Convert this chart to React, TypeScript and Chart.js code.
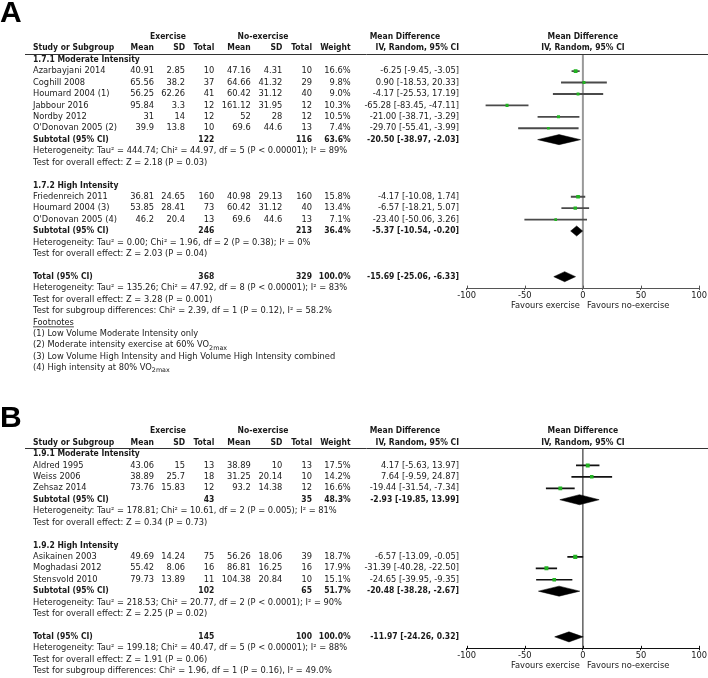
import React, { useEffect, useRef } from 'react';
import { Chart, registerables } from 'chart.js';
Chart.register(...registerables);

const FONT = '"DejaVu Sans", Verdana, sans-serif';
const LETTER_FONT = '"Liberation Sans", Arial, sans-serif';
const FS = 8.3;
const FS_BOLD = 8.5;
const TEXT = '#1a1a1a';
const GREEN = '#22b322';

// ---------------- Panel A data ----------------
const aSubgroups = ['1.7.1 Moderate Intensity', '1.7.2 High Intensity'];
const aStudies = ['Azarbayjani 2014', 'Coghill 2008', 'Houmard 2004 (1)', 'Jabbour 2016', 'Nordby 2012', "O'Donovan 2005 (2)", 'Friedenreich 2011', 'Houmard 2004 (3)', "O'Donovan 2005 (4)"];
const aGroup = [0, 0, 0, 0, 0, 0, 1, 1, 1];
const aExMean = [40.91, 65.56, 56.25, 95.84, 31, 39.9, 36.81, 53.85, 46.2];
const aExSD = [2.85, 38.2, 62.26, 3.3, 14, 13.8, 24.65, 28.41, 20.4];
const aExN = [10, 37, 41, 12, 12, 10, 160, 73, 13];
const aNoMean = [47.16, 64.66, 60.42, 161.12, 52, 69.6, 40.98, 60.42, 69.6];
const aNoSD = [4.31, 41.32, 31.12, 31.95, 28, 44.6, 29.13, 31.12, 44.6];
const aNoN = [10, 29, 40, 12, 12, 13, 160, 40, 13];
const aWeight = [16.6, 9.8, 9.0, 10.3, 10.5, 7.4, 15.8, 13.4, 7.1];
const aMD = [-6.25, 0.9, -4.17, -65.28, -21.0, -29.7, -4.17, -6.57, -23.4];
const aLo = [-9.45, -18.53, -25.53, -83.45, -38.71, -55.41, -10.08, -18.21, -50.06];
const aHi = [-3.05, 20.33, 17.19, -47.11, -3.29, -3.99, 1.74, 5.07, 3.26];
const aSubExN = [122, 246];
const aSubNoN = [116, 213];
const aSubWeight = [63.6, 36.4];
const aSubMD = [-20.5, -5.37];
const aSubLo = [-38.97, -10.54];
const aSubHi = [-2.03, -0.2];
const aSubHet = [
  'Heterogeneity: Tau² = 444.74; Chi² = 44.97, df = 5 (P < 0.00001); I² = 89%',
  'Heterogeneity: Tau² = 0.00; Chi² = 1.96, df = 2 (P = 0.38); I² = 0%',
];
const aSubTest = ['Test for overall effect: Z = 2.18 (P = 0.03)', 'Test for overall effect: Z = 2.03 (P = 0.04)'];
const aTotN = [368, 329];
const aTotWeight = 100.0;
const aTotEffect = [-15.69, -25.06, -6.33];
const aTotNotes = [
  'Heterogeneity: Tau² = 135.26; Chi² = 47.92, df = 8 (P < 0.00001); I² = 83%',
  'Test for overall effect: Z = 3.28 (P = 0.001)',
  'Test for subgroup differences: Chi² = 2.39, df = 1 (P = 0.12), I² = 58.2%',
];
const aFootnotes: [string, string][] = [
  ['(1) Low Volume Moderate Intensity only', ''],
  ['(2) Moderate intensity exercise at 60% VO', '2max'],
  ['(3) Low Volume High Intensity and High Volume High Intensity combined', ''],
  ['(4) High intensity at 80% VO', '2max'],
];

// ---------------- Panel B data ----------------
const bSubgroups = ['1.9.1 Moderate Intensity', '1.9.2 High Intensity'];
const bStudies = ['Aldred 1995', 'Weiss 2006', 'Zehsaz 2014', 'Asikainen 2003', 'Moghadasi 2012', 'Stensvold 2010'];
const bGroup = [0, 0, 0, 1, 1, 1];
const bExMean = [43.06, 38.89, 73.76, 49.69, 55.42, 79.73];
const bExSD = [15, 25.7, 15.83, 14.24, 8.06, 13.89];
const bExN = [13, 18, 12, 75, 16, 11];
const bNoMean = [38.89, 31.25, 93.2, 56.26, 86.81, 104.38];
const bNoSD = [10, 20.14, 14.38, 18.06, 16.25, 20.84];
const bNoN = [13, 10, 12, 39, 16, 10];
const bWeight = [17.5, 14.2, 16.6, 18.7, 17.9, 15.1];
const bMD = [4.17, 7.64, -19.44, -6.57, -31.39, -24.65];
const bLo = [-5.63, -9.59, -31.54, -13.09, -40.28, -39.95];
const bHi = [13.97, 24.87, -7.34, -0.05, -22.5, -9.35];
const bSubExN = [43, 102];
const bSubNoN = [35, 65];
const bSubWeight = [48.3, 51.7];
const bSubMD = [-2.93, -20.48];
const bSubLo = [-19.85, -38.28];
const bSubHi = [13.99, -2.67];
const bSubHet = [
  'Heterogeneity: Tau² = 178.81; Chi² = 10.61, df = 2 (P = 0.005); I² = 81%',
  'Heterogeneity: Tau² = 218.53; Chi² = 20.77, df = 2 (P < 0.0001); I² = 90%',
];
const bSubTest = ['Test for overall effect: Z = 0.34 (P = 0.73)', 'Test for overall effect: Z = 2.25 (P = 0.02)'];
const bTotN = [145, 100];
const bTotWeight = 100.0;
const bTotEffect = [-11.97, -24.26, 0.32];
const bTotNotes = [
  'Heterogeneity: Tau² = 199.18; Chi² = 40.47, df = 5 (P < 0.00001); I² = 88%',
  'Test for overall effect: Z = 1.91 (P = 0.06)',
  'Test for subgroup differences: Chi² = 1.96, df = 1 (P = 0.16), I² = 49.0%',
];
const bFootnotes: [string, string][] = [];

// axis & header texts
const xMin = -100;
const xMax = 100;
const xStep = 50;
const headerExercise = 'Exercise';
const headerControl = 'No-exercise';
const headerMD = 'Mean Difference';
const headerMethod = 'IV, Random, 95% CI';
const favourLeft = 'Favours exercise';
const favourRight = 'Favours no-exercise';

type Panel = any;

const panelA: Panel = {
  letter: 'A', subgroups: aSubgroups, studies: aStudies, group: aGroup, exMean: aExMean, exSD: aExSD, exN: aExN,
  noMean: aNoMean, noSD: aNoSD, noN: aNoN, weight: aWeight, md: aMD, lo: aLo, hi: aHi,
  subExN: aSubExN, subNoN: aSubNoN, subWeight: aSubWeight, subMD: aSubMD, subLo: aSubLo, subHi: aSubHi,
  subHet: aSubHet, subTest: aSubTest, totN: aTotN, totWeight: aTotWeight, totEffect: aTotEffect, totNotes: aTotNotes,
  footnotes: aFootnotes,
  style: { ci: '#4a4a4a', ciW: 1.2, zero: '#999999', zeroW: 2, axis: '#555555', letterY: 22, padTop: 54, padBottom: 77.9, height: 382, top: 0 },
};
const panelB: Panel = {
  letter: 'B', subgroups: bSubgroups, studies: bStudies, group: bGroup, exMean: bExMean, exSD: bExSD, exN: bExN,
  noMean: bNoMean, noSD: bNoSD, noN: bNoN, weight: bWeight, md: bMD, lo: bLo, hi: bHi,
  subExN: bSubExN, subNoN: bSubNoN, subWeight: bSubWeight, subMD: bSubMD, subLo: bSubLo, subHi: bSubHi,
  subHet: bSubHet, subTest: bSubTest, totN: bTotN, totWeight: bTotWeight, totEffect: bTotEffect, totNotes: bTotNotes,
  footnotes: bFootnotes,
  style: { ci: '#111111', ciW: 1, zero: '#111111', zeroW: 1, axis: '#111111', letterY: 45, padTop: 66.3, padBottom: 13.7, height: 296, top: 382 },
};

// column anchors (layout)
const COL = { name: 33, exMean: 154, exSD: 185, exN: 214.3, noMean: 250.7, noSD: 282.3, noN: 312, weight: 350.7, ci: 459, exHead: 168, noHead: 263, mdHead: 405, lineLeft: 25 };

function layoutRows(p: Panel) {
  const rows: any[] = [];
  const studyRow: number[] = [];
  const subRow: number[] = [];
  let r = 0;
  p.subgroups.forEach((name: string, g: number) => {
    rows.push({ kind: 'group', r, text: name }); r++;
    p.studies.forEach((_s: string, i: number) => {
      if (p.group[i] === g) { rows.push({ kind: 'study', r, i }); studyRow[i] = r; r++; }
    });
    rows.push({ kind: 'subtotal', r, g }); subRow[g] = r; r++;
    rows.push({ kind: 'note', r, text: p.subHet[g] }); r++;
    rows.push({ kind: 'note', r, text: p.subTest[g] }); r++;
    r++;
  });
  const totalRow = r;
  rows.push({ kind: 'total', r }); r++;
  p.totNotes.forEach((t: string) => { rows.push({ kind: 'note', r, text: t }); r++; });
  if (p.footnotes.length) {
    rows.push({ kind: 'fnhead', r }); r++;
    p.footnotes.forEach((f: [string, string]) => { rows.push({ kind: 'fn', r, f }); r++; });
  }
  return { rows, studyRow, subRow, totalRow };
}

const fmtCI = (m: number, l: number, h: number) => `${m.toFixed(2)} [${l.toFixed(2)}, ${h.toFixed(2)}]`;

function diamond(lo: number, m: number, hi: number, row: number) {
  const h = 0.44;
  return [
    { x: lo, y: row }, { x: m, y: row - h }, { x: hi, y: row }, { x: m, y: row + h }, { x: lo, y: row },
  ];
}

function makePlugin(p: Panel, lay: any) {
  return {
    id: 'forestTable' + p.letter,
    beforeDatasetsDraw(chart: any) {
      const { ctx, chartArea } = chart;
      const zx = chart.scales.x.getPixelForValue(0);
      ctx.save();
      ctx.strokeStyle = p.style.zero;
      ctx.lineWidth = p.style.zeroW;
      ctx.beginPath();
      ctx.moveTo(zx, chartArea.top);
      ctx.lineTo(zx, chartArea.bottom);
      ctx.stroke();
      ctx.restore();
    },
    afterDraw(chart: any) {
      const { ctx, chartArea } = chart;
      const xs = chart.scales.x;
      const ys = chart.scales.y;
      const Y = (r: number) => ys.getPixelForValue(r);
      const zx = xs.getPixelForValue(0);
      const cx = (chartArea.left + chartArea.right) / 2;
      ctx.save();
      const t = (s: string, x: number, y: number, align: CanvasTextAlign = 'left', bold = false, size = FS) => {
        ctx.font = `${bold ? 'bold ' : ''}${bold && size === FS ? FS_BOLD : size}px ${FONT}`;
        try { (ctx as any).fontStretch = bold ? 'semi-condensed' : 'normal'; } catch (e) { /* ignore */ }
        ctx.textAlign = align;
        ctx.fillText(s, x, y);
      };
      // panel letter
      ctx.font = `bold 30px ${LETTER_FONT}`;
      ctx.textBaseline = 'alphabetic';
      ctx.textAlign = 'left';
      ctx.fillStyle = '#000';
      ctx.fillText(p.letter, 0, p.style.letterY);

      ctx.fillStyle = TEXT;
      ctx.textBaseline = 'middle';
      // headers
      const h1 = Y(-2), h2 = Y(-1);
      t(headerExercise, COL.exHead, h1, 'center', true);
      t(headerControl, COL.noHead, h1, 'center', true);
      t(headerMD, COL.mdHead, h1, 'center', true);
      t(headerMD, cx, h1, 'center', true);
      t('Study or Subgroup', COL.name, h2, 'left', true);
      t('Mean', COL.exMean, h2, 'right', true);
      t('SD', COL.exSD, h2, 'right', true);
      t('Total', COL.exN, h2, 'right', true);
      t('Mean', COL.noMean, h2, 'right', true);
      t('SD', COL.noSD, h2, 'right', true);
      t('Total', COL.noN, h2, 'right', true);
      t('Weight', COL.weight, h2, 'right', true);
      t(headerMethod, COL.ci, h2, 'right', true);
      t(headerMethod, cx, h2, 'center', true);
      // header rule
      ctx.strokeStyle = '#333';
      ctx.lineWidth = 1;
      ctx.beginPath();
      const hl = Math.round(Y(-0.5)) + 0.5;
      ctx.moveTo(COL.lineLeft, hl);
      ctx.lineTo(chart.width, hl);
      ctx.stroke();

      lay.rows.forEach((row: any) => {
        const y = Y(row.r);
        if (row.kind === 'group') t(row.text, COL.name, y, 'left', true);
        else if (row.kind === 'study') {
          const i = row.i;
          t(p.studies[i], COL.name, y);
          t(String(p.exMean[i]), COL.exMean, y, 'right');
          t(String(p.exSD[i]), COL.exSD, y, 'right');
          t(String(p.exN[i]), COL.exN, y, 'right');
          t(String(p.noMean[i]), COL.noMean, y, 'right');
          t(String(p.noSD[i]), COL.noSD, y, 'right');
          t(String(p.noN[i]), COL.noN, y, 'right');
          t(p.weight[i].toFixed(1) + '%', COL.weight, y, 'right');
          t(fmtCI(p.md[i], p.lo[i], p.hi[i]), COL.ci, y, 'right');
        } else if (row.kind === 'subtotal') {
          const g = row.g;
          t('Subtotal (95% CI)', COL.name, y, 'left', true);
          t(String(p.subExN[g]), COL.exN, y, 'right', true);
          t(String(p.subNoN[g]), COL.noN, y, 'right', true);
          t(p.subWeight[g].toFixed(1) + '%', COL.weight, y, 'right', true);
          t(fmtCI(p.subMD[g], p.subLo[g], p.subHi[g]), COL.ci, y, 'right', true);
        } else if (row.kind === 'total') {
          t('Total (95% CI)', COL.name, y, 'left', true);
          t(String(p.totN[0]), COL.exN, y, 'right', true);
          t(String(p.totN[1]), COL.noN, y, 'right', true);
          t(p.totWeight.toFixed(1) + '%', COL.weight, y, 'right', true);
          t(fmtCI(p.totEffect[0], p.totEffect[1], p.totEffect[2]), COL.ci, y, 'right', true);
        } else if (row.kind === 'note') {
          t(row.text, COL.name, y);
        } else if (row.kind === 'fnhead') {
          t('Footnotes', COL.name, y);
          const w = ctx.measureText('Footnotes').width;
          ctx.strokeStyle = TEXT;
          ctx.lineWidth = 0.8;
          ctx.beginPath();
          ctx.moveTo(COL.name, y + 4.5);
          ctx.lineTo(COL.name + w, y + 4.5);
          ctx.stroke();
        } else if (row.kind === 'fn') {
          const [main, sub] = row.f;
          t(main, COL.name, y);
          if (sub) {
            const w = ctx.measureText(main).width;
            t(sub, COL.name + w, y + 2.8, 'left', false, 6.4);
          }
        }
      });

      // tick marks extending above the axis line
      ctx.strokeStyle = p.style.axis;
      ctx.lineWidth = 1;
      xs.ticks.forEach((tk: any) => {
        const px = Math.round(xs.getPixelForValue(tk.value)) + 0.5;
        ctx.beginPath();
        ctx.moveTo(px, chartArea.bottom - 2.5);
        ctx.lineTo(px, chartArea.bottom);
        ctx.stroke();
      });
      // favours labels
      const fy = chartArea.bottom + 18;
      t(favourLeft, zx - 3, fy, 'right');
      t(favourRight, zx + 4, fy, 'left');
      ctx.restore();
    },
  };
}

function ForestPanel({ panel }: { panel: Panel }) {
  const ref = useRef<HTMLCanvasElement>(null);
  useEffect(() => {
    const p = panel;
    const lay = layoutRows(p);
    const datasets: any[] = [];
    datasets.push({
      type: 'scatter',
      data: p.studies.map((_s: string, i: number) => ({ x: p.md[i], y: lay.studyRow[i] })),
      pointStyle: 'rect',
      pointRadius: p.weight.map((w: number) => (1.8 + w * 0.12) / Math.SQRT2),
      backgroundColor: GREEN,
      borderWidth: 0,
    });
    datasets.push({
      type: 'bar',
      indexAxis: 'y',
      data: p.studies.map((_s: string, i: number) => ({ x: [p.lo[i], p.hi[i]], y: lay.studyRow[i] })),
      backgroundColor: p.style.ci,
      borderWidth: 0,
      barThickness: p.style.ciW,
      grouped: false,
    });
    p.subgroups.forEach((_n: string, g: number) => {
      datasets.push({
        type: 'line',
        data: diamond(p.subLo[g], p.subMD[g], p.subHi[g], lay.subRow[g]),
        borderColor: '#000', borderWidth: 0.5, backgroundColor: '#000', fill: 'shape', pointRadius: 0, tension: 0,
      });
    });
    datasets.push({
      type: 'line',
      data: diamond(p.totEffect[1], p.totEffect[0], p.totEffect[2], lay.totalRow),
      borderColor: '#000', borderWidth: 0.5, backgroundColor: '#000', fill: 'shape', pointRadius: 0, tension: 0,
    });

    const chart = new Chart(ref.current as HTMLCanvasElement, {
      type: 'scatter',
      data: { datasets },
      options: {
        animation: false,
        responsive: false,
        devicePixelRatio: 1,
        events: [],
        layout: { padding: { left: 466.7, right: 8.7, top: p.style.padTop, bottom: p.style.padBottom } },
        plugins: { legend: { display: false }, tooltip: { enabled: false }, title: { display: false } },
        scales: {
          x: {
            type: 'linear', min: xMin, max: xMax, position: 'bottom', offset: false, beginAtZero: false,
            ticks: { stepSize: xStep, color: TEXT, font: { family: FONT, size: FS }, padding: 1, maxRotation: 0, autoSkip: false },
            grid: { display: true, offset: false, drawOnChartArea: false, drawTicks: true, tickLength: 2, color: p.style.axis, tickColor: p.style.axis },
            border: { display: true, color: p.style.axis, width: 1 },
            afterFit: (s: any) => { s.height = 16; },
          },
          y: { type: 'linear', display: false, reverse: true, offset: false, grid: { offset: false }, beginAtZero: false, min: -0.5, max: lay.totalRow + 1 },
        },
      },
      plugins: [makePlugin(p, lay)],
    } as any);
    return () => chart.destroy();
  }, [panel]);
  return (
    <canvas
      ref={ref}
      width={708}
      height={panel.style.height}
      style={{ position: 'absolute', left: 0, top: panel.style.top, width: 708, height: panel.style.height, display: 'block' }}
    />
  );
}

export default function App() {
  return (
    <div style={{ position: 'fixed', left: 0, top: 0, width: 708, height: 678, background: '#fff', overflow: 'hidden' }}>
      <ForestPanel panel={panelA} />
      <ForestPanel panel={panelB} />
    </div>
  );
}
